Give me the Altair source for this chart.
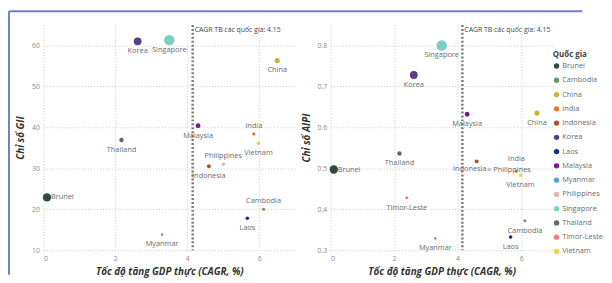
import altair as alt
import pandas as pd

countries = ["Brunei", "Cambodia", "China", "India", "Indonesia", "Korea", "Laos",
             "Malaysia", "Myanmar", "Philippines", "Singapore", "Thailand",
             "Timor-Leste", "Vietnam"]
cagr = [0.1, 6.12, 6.5, 5.85, 4.6, 2.62, 5.67, 4.3, 3.3, 5.0, 3.5, 2.17, 2.4, 5.98]
gii = [22.9, 20.0, 56.3, 38.4, 30.5, 61.0, 17.8, 40.4, 13.8, 31.0, 61.3, 36.9, None, 36.1]
aipi = [0.497, 0.372, 0.635, 0.493, 0.517, 0.728, 0.332, 0.632, 0.329, 0.497, 0.800,
        0.536, 0.428, 0.483]
bubble = [72, 10, 28, 10, 16, 64, 13, 24, 7, 13, 113, 20, 10, 13]
colors = ["#2e4a3e", "#6b9a62", "#d6ad35", "#e07b2a", "#a8552b", "#5b3f8c", "#1e2a94",
          "#76198a", "#5b9fd1", "#dcb6bb", "#7fcdc3", "#5e6866", "#ea7f80", "#f2cf4a"]
avg_cagr = [4.15]

gii_above = ["India", "Philippines", "Cambodia"]
gii_right = ["Brunei"]
aipi_above = ["India"]
aipi_right = ["Brunei", "Philippines"]
aipi_left = ["Indonesia"]

df = pd.DataFrame({"Quốc gia": countries, "CAGR": cagr, "GII": gii, "AIPI": aipi,
                   "Quy mô": bubble})
avg_df = pd.DataFrame({"avg": avg_cagr})

FONT = "Open Sans"
color_scale = alt.Scale(domain=countries, range=colors)
size_scale = alt.Scale(domain=[0, 113], range=[0, 113])
x_axis = alt.Axis(values=[0, 2, 4, 6], title="Tốc độ tăng GDP thực (CAGR, %)")


def panel(ycol, ytitle, yvals, ydom, above, right, left, w, above_dy, extra=None):
    base = alt.Chart(df).transform_filter(alt.datum[ycol] != None)
    x = alt.X("CAGR:Q", scale=alt.Scale(domain=[0, 7], nice=False), axis=x_axis)
    y = alt.Y(f"{ycol}:Q", scale=alt.Scale(domain=ydom, nice=False, zero=False),
              axis=alt.Axis(values=yvals, title=ytitle))
    pts = base.mark_circle(opacity=1).encode(
        x=x, y=y,
        color=alt.Color("Quốc gia:N", scale=color_scale,
                        legend=alt.Legend(title="Quốc gia")),
        size=alt.Size("Quy mô:Q", scale=size_scale, legend=None),
    )
    others = above + right + left
    tcommon = dict(fontSize=7.5, color="#6b6b6b", font=FONT)
    below_t = base.transform_filter(
        ~alt.FieldOneOfPredicate(field="Quốc gia", oneOf=others)
    ).mark_text(dy=10, baseline="middle", **tcommon).encode(x=x, y=y, text="Quốc gia:N")
    above_t = base.transform_filter(
        alt.FieldOneOfPredicate(field="Quốc gia", oneOf=above)
    ).mark_text(dy=above_dy, baseline="middle", **tcommon).encode(
        x=x, y=y, text="Quốc gia:N")
    layers = [pts, below_t, above_t]
    if right:
        layers.append(base.transform_filter(
            alt.FieldOneOfPredicate(field="Quốc gia", oneOf=right)
        ).mark_text(dx=4, align="left", baseline="middle", **tcommon).encode(
            x=x, y=y, text="Quốc gia:N"))
    if left:
        layers.append(base.transform_filter(
            alt.FieldOneOfPredicate(field="Quốc gia", oneOf=left)
        ).mark_text(dx=-7, dy=8, baseline="middle", **tcommon).encode(
            x=x, y=y, text="Quốc gia:N"))
    rule = alt.Chart(avg_df).mark_rule(strokeDash=[2, 2], strokeWidth=2.5,
                                       color="#7a7a7a").encode(x=alt.X("avg:Q"))
    rtext = alt.Chart(avg_df).mark_text(align="left", dx=2, fontSize=7, color="#444",
                                        font=FONT, baseline="middle").encode(
        x="avg:Q", y=alt.value(5), text=alt.value("CAGR TB các quốc gia: 4.15"))
    allk = [rule] + layers + [rtext]
    if extra:
        allk = extra + allk
    return alt.layer(*allk).properties(width=w, height=229)


frame = [
    alt.Chart(avg_df).mark_rule(color="#6b7fd3", strokeWidth=2).encode(
        x=alt.value(-35), y=alt.value(-14), y2=alt.value(254)),
    alt.Chart(avg_df).mark_rule(color="#6b7fd3", strokeWidth=2).encode(
        x=alt.value(-35), x2=alt.value(548), y=alt.value(-14)),
]

left = panel("GII", "Chỉ số GII", [10, 20, 30, 40, 50, 60], [10, 65],
             gii_above, gii_right, [], 256, -8, extra=frame)
right = panel("AIPI", "Chỉ số AIPI", [0.3, 0.4, 0.5, 0.6, 0.7, 0.8], [0.3, 0.85],
              aipi_above, aipi_right, aipi_left, 226, -12)

chart = alt.hconcat(left, right, spacing=36, bounds="flush").properties(
    padding={"left": 0, "top": 0, "right": 0, "bottom": 0}
).configure_view(stroke=None).configure_axis(
    domain=False, ticks=False, grid=True, gridDash=[1, 2], gridColor="#c8c8c8",
    labelColor="#8a8a8a", labelFontSize=7, labelFont=FONT, labelPadding=4,
    titleFont=FONT, titleFontSize=10, titleFontWeight="bold", titleFontStyle="italic",
    titleColor="#333333",
).configure_axisX(titlePadding=6).configure_axisY(titlePadding=6).configure_legend(
    orient="none", legendX=518, legendY=27, titleFont=FONT, titleFontSize=8,
    titleColor="#444", titleFontWeight="bold", labelFont=FONT, labelFontSize=7.5,
    labelColor="#6b6b6b", symbolType="circle", symbolSize=30, rowPadding=5.5,
    titlePadding=3, labelOffset=2, symbolStrokeWidth=0,
)

chart.save("out.html", embed_options={"renderer": "svg", "actions": False})
